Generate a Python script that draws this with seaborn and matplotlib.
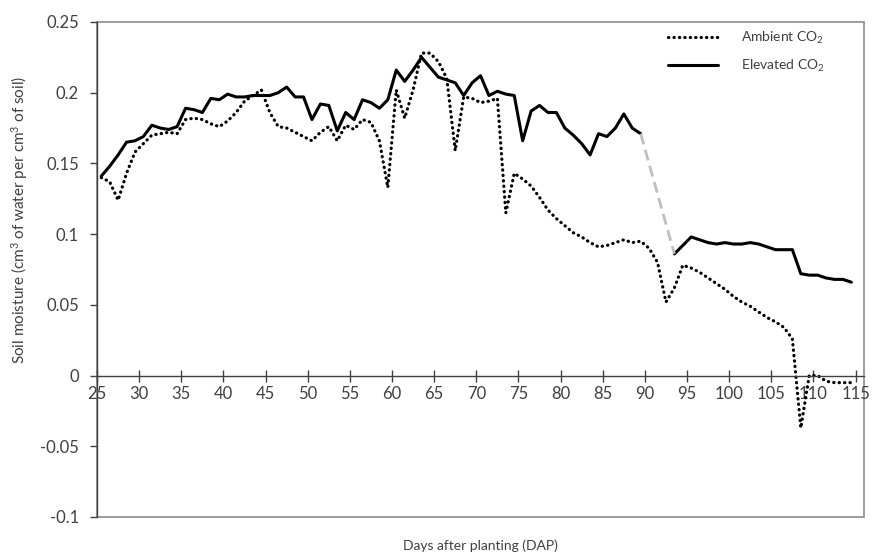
import numpy as np
import pandas as pd
import matplotlib
matplotlib.use("Agg")
import matplotlib.pyplot as plt
from matplotlib.lines import Line2D
from matplotlib.patches import Rectangle
from matplotlib.ticker import FuncFormatter, MultipleLocator
import seaborn as sns

sns.set_theme(style="white")
plt.rcParams['font.family'] = ['Lato', 'DejaVu Sans']
plt.rcParams['mathtext.fontset'] = 'custom'
plt.rcParams['mathtext.rm'] = 'Lato'
plt.rcParams['mathtext.it'] = 'Lato:italic'
plt.rcParams['mathtext.bf'] = 'Lato:bold'

# Soil moisture readings, one per day after planting (25..114)
days = list(range(25, 115))
ambient = [
    0.140, 0.137, 0.124, 0.143, 0.158, 0.164, 0.170, 0.171, 0.172, 0.171,
    0.181, 0.182, 0.181, 0.178, 0.176, 0.180, 0.186, 0.194, 0.198, 0.202,
    0.186, 0.176, 0.175, 0.172, 0.169, 0.166, 0.172, 0.176, 0.166, 0.177,
    0.174, 0.181, 0.179, 0.166, 0.133, 0.202, 0.182, 0.202, 0.228, 0.228,
    0.222, 0.210, 0.159, 0.197, 0.196, 0.193, 0.194, 0.196, 0.115, 0.143,
    0.139, 0.134, 0.126, 0.117, 0.111, 0.106, 0.101, 0.098, 0.094, 0.091,
    0.092, 0.094, 0.096, 0.094, 0.095, 0.090, 0.080, 0.052, 0.062, 0.078,
    0.076, 0.073, 0.069, 0.065, 0.061, 0.056, 0.052, 0.049, 0.045, 0.041,
    0.038, 0.034, 0.026, -0.037, 0.000, 0.000, -0.004, -0.005, -0.005, -0.005,
]
elevated = [
    0.141, 0.148, 0.156, 0.165, 0.166, 0.169, 0.177, 0.175, 0.174, 0.176,
    0.189, 0.188, 0.186, 0.196, 0.195, 0.199, 0.197, 0.197, 0.198, 0.198,
    0.198, 0.200, 0.204, 0.197, 0.197, 0.181, 0.192, 0.191, 0.173, 0.186,
    0.181, 0.195, 0.193, 0.189, 0.195, 0.216, 0.208, 0.216, 0.225, 0.218,
    0.211, 0.209, 0.207, 0.198, 0.207, 0.212, 0.198, 0.201, 0.199, 0.198,
    0.166, 0.187, 0.191, 0.186, 0.186, 0.175, 0.170, 0.164, 0.156, 0.171,
    0.169, 0.175, 0.185, 0.175, 0.171, np.nan, np.nan, np.nan, 0.086, 0.092,
    0.098, 0.096, 0.094, 0.093, 0.094, 0.093, 0.093, 0.094, 0.093, 0.091,
    0.089, 0.089, 0.089, 0.072, 0.071, 0.071, 0.069, 0.068, 0.068, 0.066,
]
series_labels = ['Ambient CO$_2$', 'Elevated CO$_2$']

df = pd.DataFrame({'day': days, 'ambient': ambient, 'elevated': elevated})
# Excel category axis: points sit in the middle of each day slot
df['x'] = df['day'] + 0.5
gap = df['elevated'].isna()
df['seg'] = gap.cumsum()

text_col = '#404040'
dotted = (0, (0.1, 1.6))

fig = plt.figure(figsize=(8.83, 5.58), dpi=100)
ax = fig.add_axes([0.1099, 0.0735, 0.8686, 0.8871])

sns.lineplot(data=df, x='x', y='ambient', color='black', linewidth=2.3,
             linestyle=dotted, dash_capstyle='round', ax=ax)
sns.lineplot(data=df.dropna(subset=['elevated']), x='x', y='elevated',
             units='seg', estimator=None, color='black', linewidth=2.2, ax=ax)

# grey dashed bridge across the missing elevated readings
before = df[(~gap) & gap.shift(-1, fill_value=False)]
after = df[(~gap) & gap.shift(1, fill_value=False)]
for (_, b), (_, a) in zip(before.iterrows(), after.iterrows()):
    bridge = pd.DataFrame({'x': [b['x'], a['x']], 'y': [b['elevated'], a['elevated']]})
    sns.lineplot(data=bridge, x='x', y='y', color='#BFBFBF', linewidth=2,
                 linestyle=(0, (4, 2)), ax=ax)

ax.set_xlim(25, 116)
ax.set_ylim(-0.1, 0.25)
ax.xaxis.set_major_locator(MultipleLocator(5))
ax.set_yticks(np.arange(-0.1, 0.2501, 0.05))
ax.yaxis.set_major_formatter(FuncFormatter(lambda v, p: f"{round(v, 2):g}"))
ax.xaxis.set_major_formatter(FuncFormatter(lambda v, p: f"{int(round(v))}"))

for s in ['top', 'right']:
    ax.spines[s].set_visible(False)
ax.spines['bottom'].set_position(('data', 0))
ax.spines['bottom'].set_color('#404040')
ax.spines['bottom'].set_linewidth(1.0)
ax.spines['left'].set_color('#404040')
ax.spines['left'].set_linewidth(1.0)
ax.add_patch(Rectangle((0, 0), 1, 1, transform=ax.transAxes, fill=False,
                       edgecolor='#8C8C8C', linewidth=1.2, clip_on=False, zorder=0))

ax.tick_params(axis='x', direction='inout', length=9, width=1, color='#404040',
               pad=3, labelsize=12, labelcolor=text_col, bottom=True)
ax.tick_params(axis='y', direction='out', length=5, width=1, color='#404040',
               pad=8, labelsize=12, labelcolor=text_col, left=True)

ax.set_xlabel('Days after planting (DAP)', fontsize=10, color=text_col)
ax.xaxis.set_label_coords(0.5, -0.045)
ax.set_ylabel('Soil moisture (cm$^3$ of water per cm$^3$ of soil)', fontsize=11, color=text_col)
ax.yaxis.set_label_coords(-0.088, 0.6)

handles = [
    Line2D([], [], color='black', linewidth=2.3, linestyle=dotted, dash_capstyle='round'),
    Line2D([], [], color='black', linewidth=2.2),
]
ax.legend(handles, series_labels, loc='upper left', bbox_to_anchor=(0.745, 0.985),
          frameon=False, fontsize=10, handlelength=3.6, handletextpad=1.6,
          labelspacing=0.9, borderaxespad=0, borderpad=0, labelcolor=text_col)

fig.savefig('out.png', dpi=100)
